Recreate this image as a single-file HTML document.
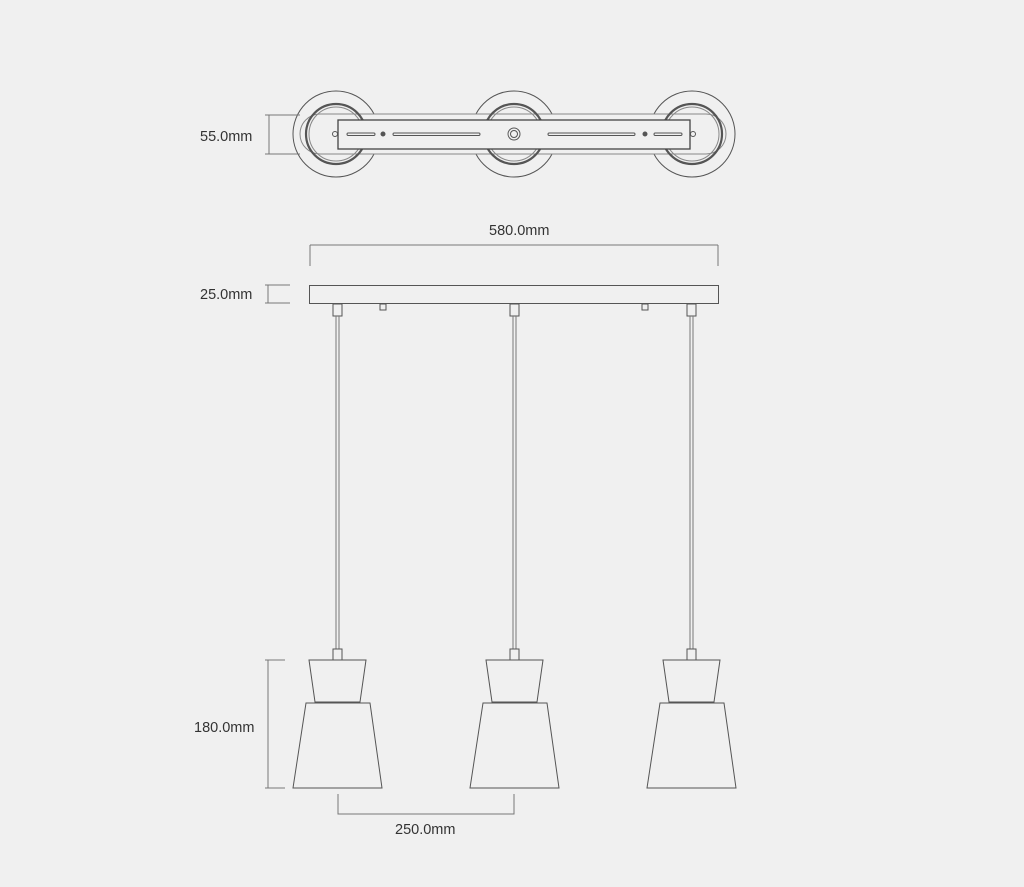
<!DOCTYPE html>
<html><head><style>
html,body{margin:0;padding:0;background:#f0f0f0;}
svg{display:block}
text{font-family:"Liberation Sans",sans-serif;font-size:14.5px;fill:#333;}
</style></head><body>
<svg width="1024" height="887" viewBox="0 0 1024 887" xmlns="http://www.w3.org/2000/svg">
<g fill="none" stroke="#555" stroke-width="1">
<!-- top view -->
<circle cx="336" cy="134" r="43"/>
<circle cx="514" cy="134" r="43"/>
<circle cx="692" cy="134" r="43"/>
<path d="M320 114 H706 A20 20 0 0 1 706 154 H320 A20 20 0 0 1 320 114 Z" fill="#f0f0f0" stroke="#888"/>
<circle cx="336" cy="134" r="30" stroke-width="2.2"/>
<circle cx="336" cy="134" r="27" stroke="#888"/>
<circle cx="514" cy="134" r="30" stroke-width="2.2"/>
<circle cx="514" cy="134" r="27" stroke="#888"/>
<circle cx="692" cy="134" r="30" stroke-width="2.2"/>
<circle cx="692" cy="134" r="27" stroke="#888"/>
<rect x="338" y="120" width="352" height="29" fill="#f0f0f0" stroke="#444" stroke-width="1.3"/>
<rect x="347" y="133" width="28" height="2.5" rx="1.2"/>
<rect x="393" y="133" width="87" height="2.5" rx="1.2"/>
<rect x="548" y="133" width="87" height="2.5" rx="1.2"/>
<rect x="654" y="133" width="28" height="2.5" rx="1.2"/>
<circle cx="383" cy="134" r="2" fill="#555"/>
<circle cx="645" cy="134" r="2" fill="#555"/>
<circle cx="335" cy="134" r="2.5"/>
<circle cx="693" cy="134" r="2.5"/>
<circle cx="514" cy="134" r="6"/>
<circle cx="514" cy="134" r="3.5"/>
<!-- 55 dim -->
<path d="M265 115H300M265 154H300M269 115V154" stroke="#777"/>
<!-- 580 dim -->
<path d="M310 245H718M310 245V266M718 245V266" stroke="#777"/>
<!-- 25 dim -->
<path d="M265 285H290M265 303H290M268 285V303" stroke="#777"/>
<!-- canopy -->
<rect x="309.5" y="285.5" width="409" height="18"/>
<rect x="333" y="304" width="9" height="12"/>
<rect x="510" y="304" width="9" height="12"/>
<rect x="687" y="304" width="9" height="12"/>
<rect x="380" y="304" width="6" height="6"/>
<rect x="642" y="304" width="6" height="6"/>
<!-- cords -->
<path d="M336 316V649M339 316V649M513 316V649M516 316V649M690 316V649M693 316V649" stroke="#777"/>
<!-- lamps -->
<g id="lamp">
<rect x="333" y="649" width="9" height="11"/>
<path d="M309 660H366L360 702H315Z"/>
<path d="M306 703H370L382 788H293Z"/>
</g>
<use href="#lamp" x="177"/>
<use href="#lamp" x="354"/>
<!-- 180 dim -->
<path d="M265 660H285M265 788H285M268 660V788" stroke="#777"/>
<!-- 250 dim -->
<path d="M338 794V814H514V794" stroke="#777"/>
</g>
<text x="200" y="141">55.0mm</text>
<text x="489" y="235">580.0mm</text>
<text x="200" y="299">25.0mm</text>
<text x="194" y="732">180.0mm</text>
<text x="395" y="834">250.0mm</text>
</svg>
</body></html>
